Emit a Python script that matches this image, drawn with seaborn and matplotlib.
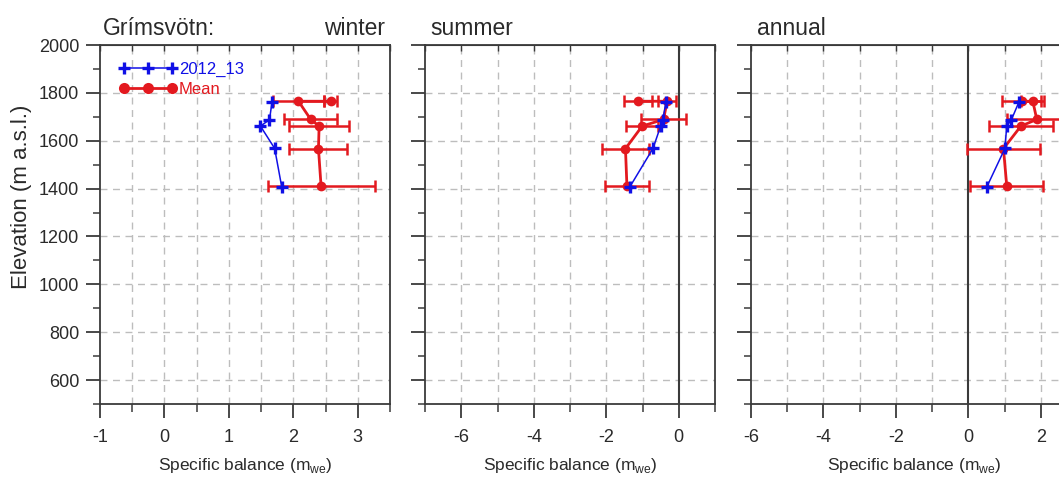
import matplotlib
matplotlib.use("Agg")
import matplotlib.pyplot as plt
from matplotlib.ticker import MultipleLocator
from matplotlib.lines import Line2D
import seaborn as sns
import pandas as pd

# Mean specific balance per stake elevation (with standard deviation)
elev_mean = [1765, 1765, 1689, 1661, 1567, 1412]
winter_mean = [2.58, 2.08, 2.27, 2.40, 2.39, 2.43]
winter_std = [0.10, 0.40, 0.41, 0.47, 0.45, 0.83]
summer_mean = [-1.12, -0.32, -0.42, -1.01, -1.47, -1.43]
summer_std = [0.38, 0.25, 0.61, 0.45, 0.65, 0.61]
annual_mean = [1.47, 1.78, 1.89, 1.45, 0.97, 1.06]
annual_std = [0.53, 0.32, 0.83, 0.88, 1.01, 1.01]

# Balance year 2012_13
elev_year = [1763, 1688, 1661, 1568, 1407]
winter_year = [1.67, 1.63, 1.49, 1.71, 1.82]
summer_year = [-0.35, -0.44, -0.50, -0.71, -1.35]
annual_year = [1.40, 1.19, 1.06, 1.01, 0.51]

year_label = "2012_13"
mean_label = "Mean"
site = "Grímsvötn:"
season_titles = ["winter", "summer", "annual"]
xlabel_text = r"Specific balance (m$_{\mathregular{we}}$)"
ylabel_text = "Elevation (m a.s.l.)"

BLUE = "#1010e6"
RED = "#e3191f"
INK = "#2a2a2a"
AXC = "#3a3a3a"

sns.set_style("ticks")
plt.rcParams["font.family"] = ["Liberation Sans", "DejaVu Sans"]
plt.rcParams["mathtext.fontset"] = "custom"
plt.rcParams["mathtext.rm"] = "Liberation Sans"
plt.rcParams["axes.unicode_minus"] = False

W, H = 1059, 480
fig = plt.figure(figsize=(W / 100, H / 100), dpi=100)

bottom = 1 - 404 / H
height = (404 - 45) / H
axes = [
    fig.add_axes([100 / W, bottom, 290 / W, height]),
    fig.add_axes([425 / W, bottom, 290 / W, height]),
    fig.add_axes([751 / W, bottom, 326 / W, height]),
]

panels = [
    (winter_mean, winter_std, winter_year, (-1, 3.5), 1, 0.5),
    (summer_mean, summer_std, summer_year, (-7, 1), 2, 1),
    (annual_mean, annual_std, annual_year, (-6, 3), 2, 1),
]

grid_kw = dict(color="#bdbdbd", linestyle=(0, (5, 4)), linewidth=1.0)

for i, (ax, (m, s, yv, xlim, maj, mnr)) in enumerate(zip(axes, panels)):
    df_mean = pd.DataFrame({"balance": m, "elevation": elev_mean})
    df_year = pd.DataFrame({"balance": yv, "elevation": elev_year})

    ax.set_xlim(*xlim)
    ax.set_ylim(500, 2000)
    ax.xaxis.set_major_locator(MultipleLocator(maj))
    ax.xaxis.set_minor_locator(MultipleLocator(mnr))
    ax.yaxis.set_major_locator(MultipleLocator(200))
    ax.yaxis.set_minor_locator(MultipleLocator(100))

    # dashed grid: vertical at every minor step, horizontal every 200 m
    n_steps = int(round((xlim[1] - xlim[0]) / mnr))
    for k in range(1, n_steps):
        xv = xlim[0] + k * mnr
        if i > 0 and abs(xv) < 1e-9:
            continue
        ax.axvline(xv, zorder=0, **grid_kw)
    for gy in range(600, 2000, 200):
        ax.axhline(gy, zorder=0, **grid_kw)

    if i > 0:
        ax.axvline(0, color=AXC, lw=1.5, zorder=1)

    # mean profile with spread
    ax.errorbar(m, elev_mean, xerr=s, fmt="none", ecolor=RED, elinewidth=1.8,
                capsize=4.5, capthick=1.8, zorder=2)
    sns.lineplot(data=df_mean, x="balance", y="elevation", sort=False,
                 estimator=None, color=RED, lw=2.0, marker="o", markersize=7,
                 markeredgecolor=RED, markeredgewidth=0, ax=ax, zorder=3,
                 label=mean_label)
    # current year profile
    sns.lineplot(data=df_year, x="balance", y="elevation", sort=False,
                 estimator=None, color=BLUE, lw=1.1, marker="+", markersize=8,
                 markeredgewidth=2.4, markeredgecolor=BLUE, ax=ax, zorder=4,
                 label=year_label)

    for side in ["left", "right", "top", "bottom"]:
        ax.spines[side].set_visible(True)
        ax.spines[side].set_color(AXC)
        ax.spines[side].set_linewidth(1.3)

    ax.tick_params(axis="x", which="major", direction="out", length=10, width=1.3,
                   color=AXC, labelsize=13, labelcolor=INK, pad=8)
    ax.tick_params(axis="x", which="minor", direction="out", length=6, width=1.1,
                   color=AXC)
    ax.tick_params(axis="y", which="major", direction="out", length=10, width=1.3,
                   color=AXC, labelsize=13, labelcolor=INK, pad=5)
    ax.tick_params(axis="y", which="minor", direction="out", length=5, width=1.1,
                   color=AXC)
    if i > 0:
        ax.tick_params(axis="y", labelleft=False)

    top = ax.secondary_xaxis("top")
    top.xaxis.set_major_locator(MultipleLocator(mnr))
    top.tick_params(direction="in", length=4, width=1.0, color=AXC,
                    labeltop=False)
    top.spines["top"].set_color(AXC)

    ax.set_xlabel(xlabel_text, fontsize=12.5, color=INK, labelpad=7)
    ax.set_ylabel("")

    leg = ax.get_legend()
    if leg is not None:
        leg.remove()

# legend in the first panel, current year first
hy = Line2D([], [], color=BLUE, lw=1.1, marker="+", markersize=9, markeredgewidth=2.4)
hm = Line2D([], [], color=RED, lw=2.0, marker="o", markersize=8, markeredgewidth=0)
leg = axes[0].legend([hy, hm], [year_label, mean_label], loc="upper left",
                     bbox_to_anchor=(0.025, 0.985), frameon=False, numpoints=3,
                     handlelength=3.5, handletextpad=0.1, labelspacing=0.3,
                     borderpad=0.2, fontsize=12)
for txt, col in zip(leg.get_texts(), [BLUE, RED]):
    txt.set_color(col)

fig.text(22 / W, 1 - 197 / H, ylabel_text, rotation=90, ha="center", va="center",
         fontsize=16, color=INK)

fig.text(103 / W, 1 - 35 / H, site, ha="left", va="baseline", fontsize=16.5, color=INK)
fig.text(385 / W, 1 - 35 / H, season_titles[0], ha="right", va="baseline",
         fontsize=16.5, color=INK)
fig.text(430 / W, 1 - 35 / H, season_titles[1], ha="left", va="baseline",
         fontsize=16.5, color=INK)
fig.text(757 / W, 1 - 35 / H, season_titles[2], ha="left", va="baseline",
         fontsize=16.5, color=INK)

fig.savefig("out.png", dpi=100, facecolor="white")
